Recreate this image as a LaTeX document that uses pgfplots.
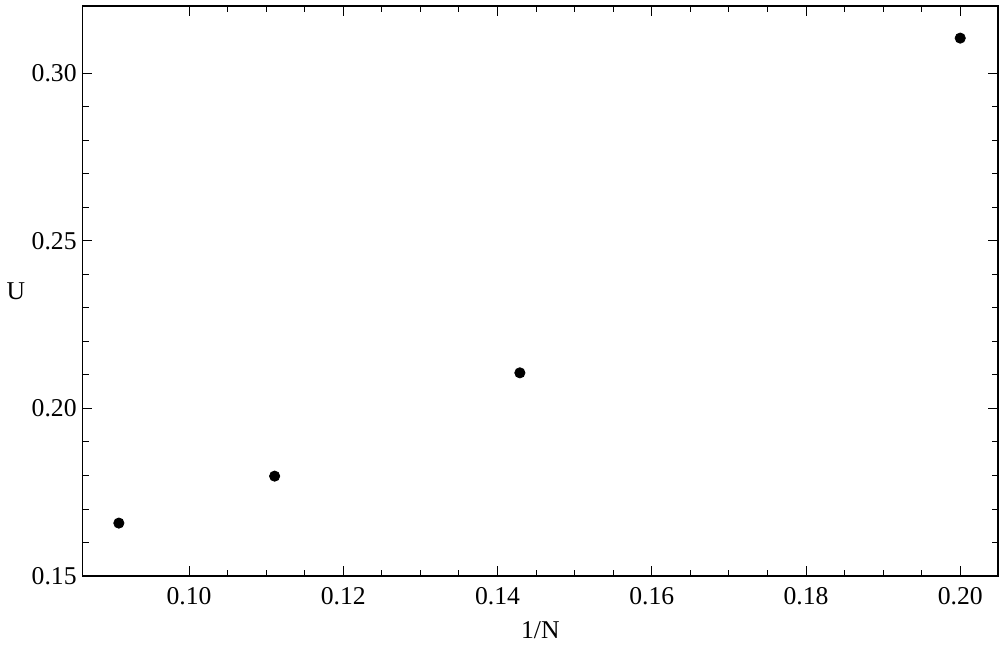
\documentclass[border=0pt]{standalone}
\usepackage{fontspec}
\setmainfont{Liberation Serif}
\usepackage{pgfplots}
\pgfplotsset{compat=1.18}

\begin{document}
\begin{tikzpicture}
\begin{axis}[
    name=main,
    width=464pt, height=289pt,
    scale only axis,
    xmin=0.0862, xmax=0.2049,
    ymin=0.15, ymax=0.32,
    xtick={0.10,0.12,0.14,0.16,0.18,0.20},
    ytick={0.15,0.20,0.25,0.30},
    minor x tick num=3,
    minor y tick num=4,
    tick align=inside,
    major tick length=5pt,
    minor tick length=3pt,
    tick style={black, line width=0.5pt},
    axis line style={line width=0.6pt},
    xticklabel style={yshift=-2pt, /pgf/number format/.cd, fixed, fixed zerofill, precision=2},
    yticklabel style={xshift=0.5pt, /pgf/number format/.cd, fixed, fixed zerofill, precision=2},
    /pgf/number format/assume math mode=true,
    ticklabel style={font=\fontsize{13}{15}\selectfont},
    label style={font=\fontsize{13}{15}\selectfont},
    xlabel={1/N},
    xlabel style={yshift=-2pt},
    ylabel={U},
    ylabel style={rotate=-90, xshift=3.5pt},
]
\addplot[only marks, mark=*, mark size=2.6pt, black] coordinates {
    (0.0909, 0.1658)
    (0.1111, 0.1798)
    (0.1429, 0.2106)
    (0.2000, 0.3104)
};
\end{axis}
\path ([yshift=3pt]main.north) ([xshift=1pt]main.east);
\end{tikzpicture}
\end{document}
